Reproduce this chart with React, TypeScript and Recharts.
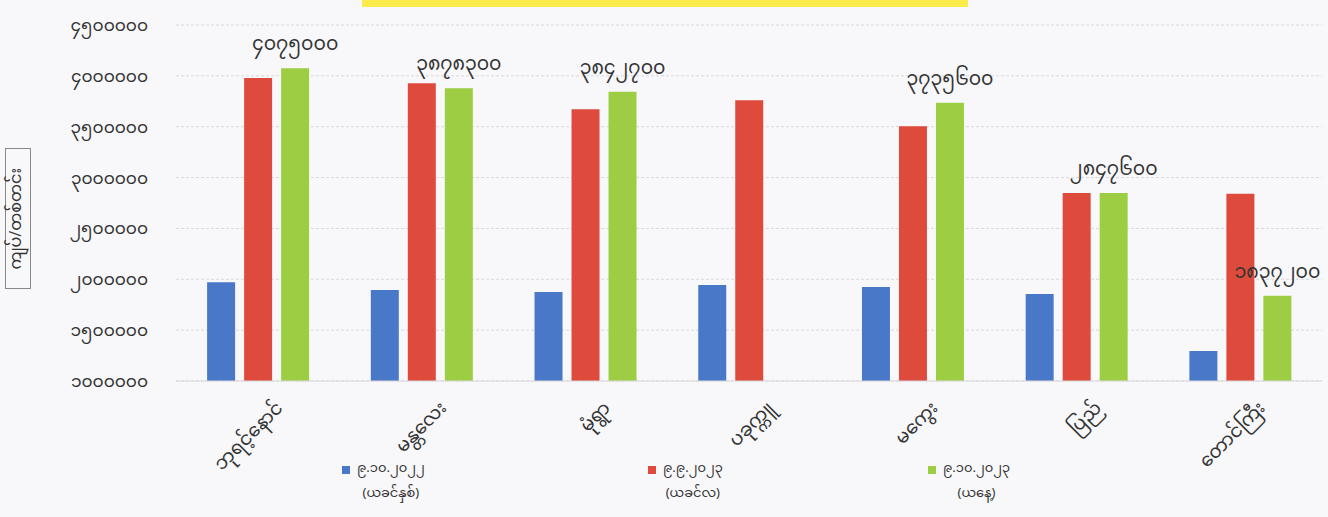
import React from "react";
import { BarChart, Bar, XAxis, YAxis, CartesianGrid, LabelList } from "recharts";

const categories = ["ဘုရင့်နောင်", "မန္တလေး", "မုံရွာ", "ပခုက္ကူ", "မကွေး", "ပြည်", "တောင်ကြီး"];
const prevYear = [1972000, 1894000, 1874000, 1943000, 1923000, 1855000, 1295000];
const prevMonth = [3979000, 3927000, 3672000, 3760000, 3505000, 2847600, 2840000];
const today: (number | null)[] = [4075000, 3878300, 3842700, null, 3735600, 2847600, 1837200];
const yTicks = [1000000, 1500000, 2000000, 2500000, 3000000, 3500000, 4000000, 4500000];
const seriesNames = [
  ["၉.၁၀.၂၀၂၂", "(ယခင်နှစ်)"],
  ["၉.၉.၂၀၂၃", "(ယခင်လ)"],
  ["၉.၁၀.၂၀၂၃", "(ယနေ့)"],
];
const yLabel = "ကျပ်/တစ်တင်း";

const COLORS = ["#4a78c9", "#de4a3c", "#9ccd42"];
const FONT = "'Noto Sans Myanmar', 'Padauk', 'Myanmar Text', 'Noto Sans', sans-serif";

const data = categories.map((c, i) => ({ name: c, a: prevYear[i], b: prevMonth[i], c: today[i] }));

const toMy = (v: any) =>
  v == null ? "" : String(v).replace(/[0-9]/g, (d) => String.fromCharCode(0x1040 + Number(d)));

const XTick = (props: any) => {
  const { x, y, payload } = props;
  const ax = x + 26;
  const ay = y + 20;
  return (
    <text
      x={ax}
      y={ay}
      textAnchor="end"
      fontSize={18.5}
      fill="#333"
      fontFamily={FONT}
      transform={`rotate(-45, ${ax}, ${ay})`}
    >
      {payload.value}
    </text>
  );
};

const legendLefts = [342, 648, 928];

export default function App() {
  return (
    <div
      style={{
        position: "absolute",
        left: 0,
        top: 0,
        width: 1328,
        height: 517,
        background: "#f8f8fa",
        fontFamily: FONT,
        overflow: "hidden",
      }}
    >
      <div style={{ position: "absolute", left: 362, top: 0, width: 606, height: 7, background: "#fbeb4b" }} />
      <BarChart
        width={1328}
        height={517}
        data={data}
        margin={{ top: 25, right: 6, bottom: 36, left: 26 }}
        barCategoryGap="19%"
        barGap={9}
      >
        <CartesianGrid vertical={false} stroke="#d9d9dc" strokeDasharray="3 2" />
        <XAxis
          dataKey="name"
          interval={0}
          tick={<XTick />}
          tickLine={false}
          axisLine={{ stroke: "#d9d9dc" }}
          height={100}
        />
        <YAxis
          domain={[1000000, 4500000]}
          ticks={yTicks}
          allowDataOverflow
          width={150}
          tickLine={false}
          axisLine={false}
          tickSize={0}
          tickMargin={28}
          tickFormatter={toMy}
          tick={{ fontSize: 17, fill: "#333", fontFamily: FONT }}
        />
        <Bar dataKey="a" fill={COLORS[0]} isAnimationActive={false} />
        <Bar dataKey="b" fill={COLORS[1]} isAnimationActive={false} />
        <Bar dataKey="c" fill={COLORS[2]} isAnimationActive={false}>
          <LabelList
            dataKey="c"
            position="top"
            offset={18}
            formatter={toMy}
            style={{ fontSize: 19, fill: "#333", fontFamily: FONT }}
          />
        </Bar>
      </BarChart>
      <div
        style={{
          position: "absolute",
          left: 5,
          top: 148,
          width: 26,
          height: 141,
          border: "1px solid #888",
          boxSizing: "border-box",
          display: "flex",
          alignItems: "center",
          justifyContent: "center",
        }}
      >
        <span
          style={{
            writingMode: "vertical-rl",
            transform: "rotate(180deg)",
            fontSize: 16,
            lineHeight: "22px",
            color: "#333",
            whiteSpace: "nowrap",
          }}
        >
          {yLabel}
        </span>
      </div>
      {seriesNames.map((s, i) => (
        <div
          key={i}
          style={{
            position: "absolute",
            left: legendLefts[i],
            top: 457,
            display: "flex",
            alignItems: "flex-start",
            fontSize: 13,
            color: "#333",
          }}
        >
          <div style={{ width: 8, height: 8, background: COLORS[i], marginTop: 9, marginRight: 7 }} />
          <div style={{ textAlign: "center", lineHeight: "25px" }}>
            <div>{s[0]}</div>
            <div>{s[1]}</div>
          </div>
        </div>
      ))}
    </div>
  );
}
